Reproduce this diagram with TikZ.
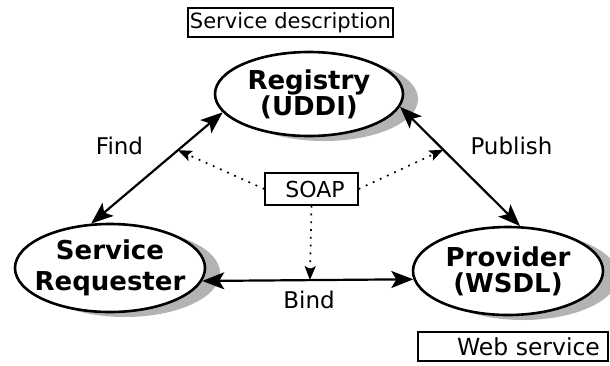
\documentclass[tikz,border=0pt]{standalone}
\usepackage{fontspec}
\setmainfont{DejaVu Sans}
\usetikzlibrary{arrows.meta,shadows,shapes.geometric}
\definecolor{shadowgray}{HTML}{B3B3B3}
\begin{document}
\begin{tikzpicture}[x=1pt,y=-1pt,
  ell/.style={ellipse,draw,line width=2.6pt,fill=white,inner xsep=-14pt,inner ysep=-4pt,
    font=\fontsize{26}{26}\selectfont\bfseries,align=center,
    drop shadow={shadow xshift=15pt,shadow yshift=-5pt,fill=shadowgray,opacity=1}},
  tbox/.style={draw,line width=2.2pt,inner sep=0pt},
  lbl/.style={font=\fontsize{23}{26}\selectfont,inner sep=0pt,anchor=base},
  big/.style={line width=2.2pt,{Stealth[length=22pt,width=17pt,inset=5pt]}-{Stealth[length=22pt,width=17pt,inset=5pt]}},
  dot/.style={line width=1.7pt,dash pattern=on 1.8pt off 6pt,-{Stealth[length=14pt,width=11pt,inset=3pt]}}
]
\useasboundingbox[fill=white] (0,0) rectangle (610,365);

\node[tbox,minimum width=205pt,minimum height=29pt,font=\fontsize{21}{25}\selectfont] (desc) at (290.5,22.5) {Service description};
\node[tbox,minimum width=190pt,minimum height=29pt,font=\fontsize{23.5}{26}\selectfont] (web) at (513,346.5) {\hspace*{31pt}Web service};

\node[ell,minimum width=188pt,minimum height=84pt] (reg) at (309,94) {Registry\\(UDDI)};
\node[ell,minimum width=190pt,minimum height=88pt,font=\fontsize{26}{31}\selectfont\bfseries] (req) at (110,268) {Service\\Requester};
\node[ell,minimum width=190pt,minimum height=88pt] (prov) at (508,271) {Provider\\(WSDL)};

\node[draw,line width=1.4pt,inner sep=0pt,minimum width=93pt,minimum height=32pt,font=\fontsize{22}{25}\selectfont] (soap) at (311.5,189) {\hspace*{7pt}SOAP};

\draw[big] (reg.192) -- coordinate[pos=0.34] (f1) (req.113);
\draw[big] (reg.352.6) -- coordinate[pos=0.36] (p1) (prov.75);
\draw[big] (req.352.8) -- coordinate[pos=0.51] (b1) (prov.185.4);

\draw[dot] (soap.west) -- (f1);
\draw[dot] (soap.east) -- (p1);
\draw[dot] (soap.south) -- (b1);

\node[lbl] (find) at (119.5,154.5) {Find};
\node[lbl] (pub) at (511.5,154.5) {Publish};
\node[lbl] (bind) at (309,308) {Bind};
\end{tikzpicture}
\end{document}
